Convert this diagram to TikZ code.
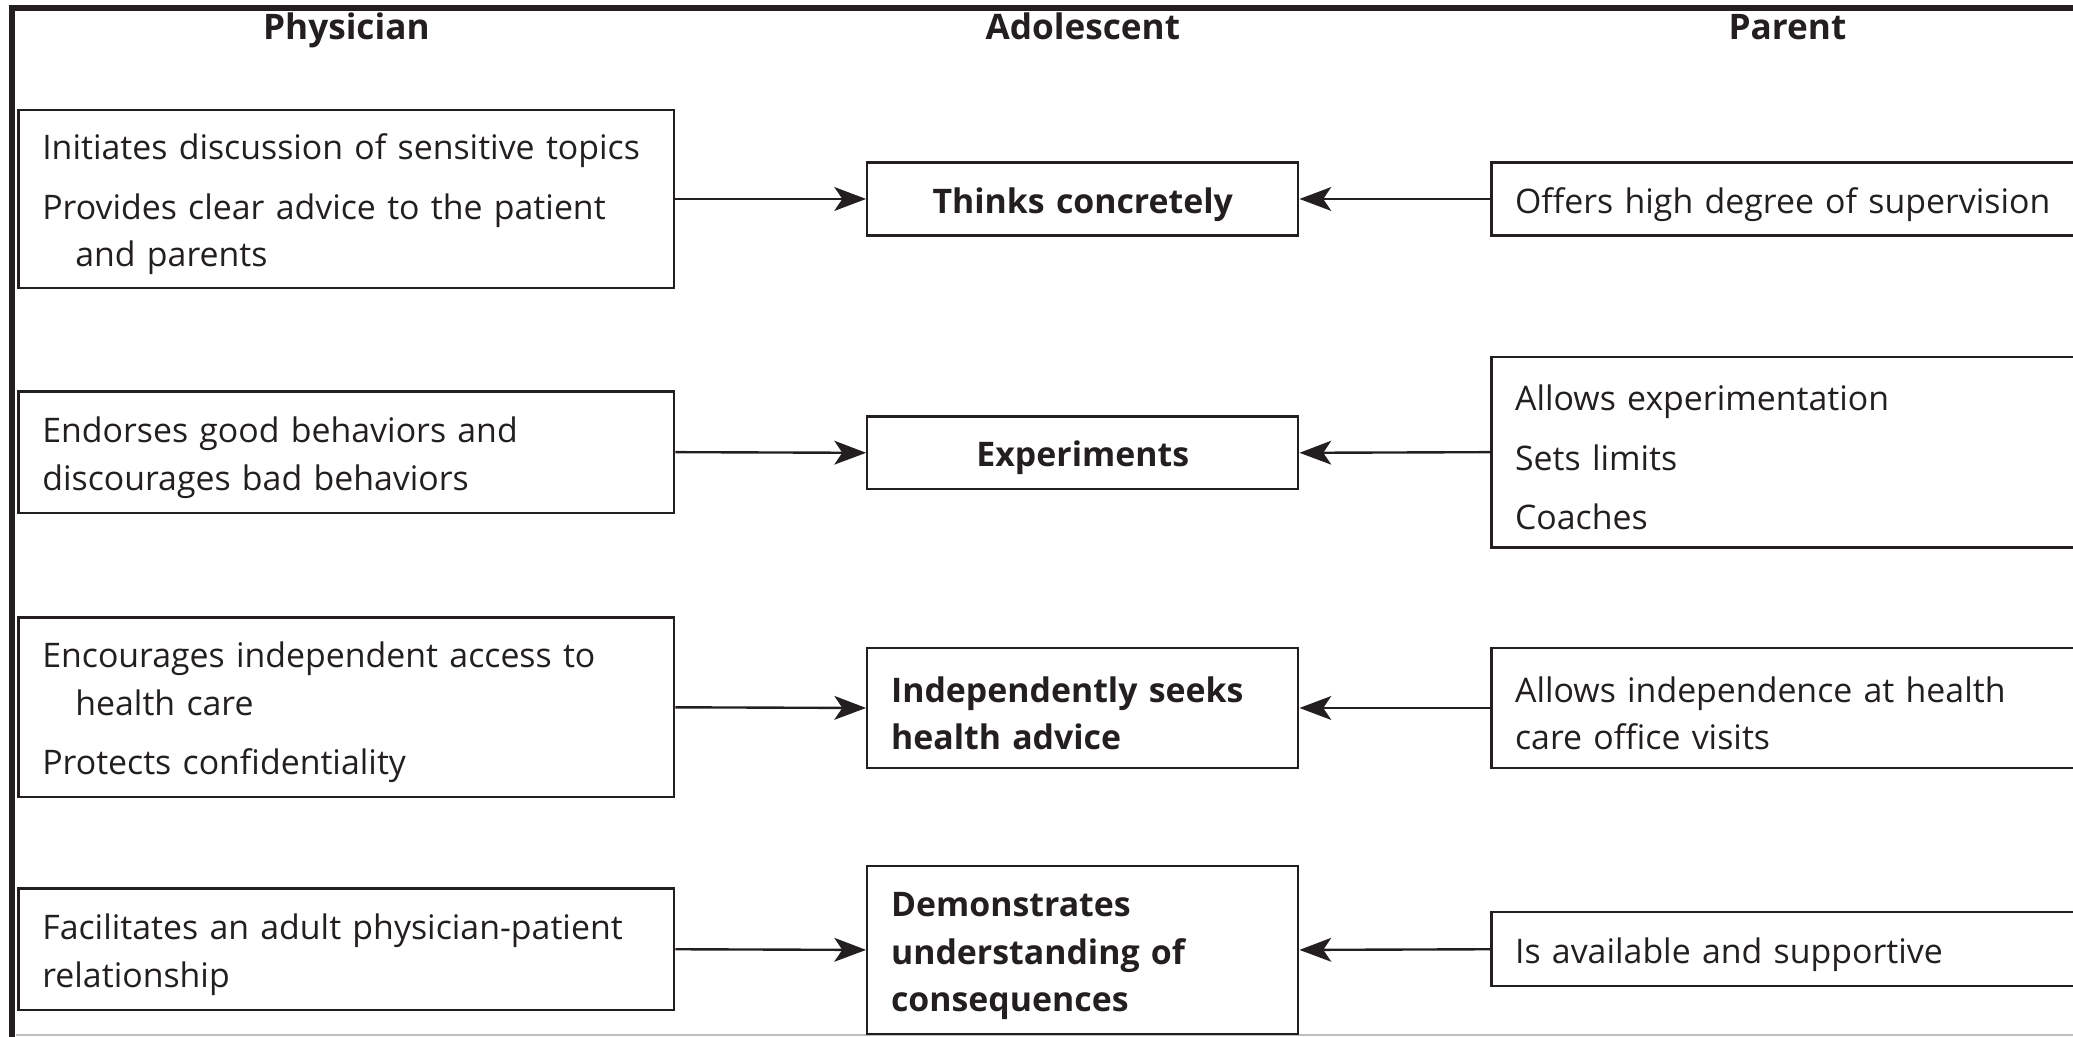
\documentclass[tikz,border=0pt]{standalone}
\usepackage{fontspec}
\setmainfont{Open Sans}
\usetikzlibrary{arrows.meta,positioning}
\definecolor{ink}{RGB}{35,31,32}
\tikzset{
  >={Stealth[length=24pt,width=18pt,inset=6pt]},
  every node/.style={font=\fontsize{25.6}{36}\selectfont,text=ink},
  blk/.style={draw=ink,line width=1.8pt,inner xsep=18pt,inner ysep=0pt,align=left,
    execute at begin node={\rule{0pt}{27.5pt}}},
  physbox/.style={blk,minimum width=496pt,text width=460pt},
  adolbox/.style={blk,minimum width=326pt,text width=290pt,font=\fontsize{25.6}{36}\selectfont\bfseries},
  parentbox/.style={blk,minimum width=480pt,text width=444pt},
  colhead/.style={anchor=base,font=\fontsize{26.6}{30}\selectfont\bfseries},
  flow/.style={->,line width=1.8pt,draw=ink},
}

\begin{document}
\begin{tikzpicture}[x=1pt,y=1pt]
  \useasboundingbox (0,0) rectangle (1568,-784);
  \clip (0,0) rectangle (1568,-784);

  % ---------------- frame
  \draw[ink,line width=4.5pt] (9.3,-790) -- (9.3,-6.4) -- (1575,-6.4);
  \draw[black!25,line width=1.5pt] (12,-783) -- (1568,-783);

  % ---------------- column heads
  \node[colhead] (hPhys) at (262,-30)  {Physician};
  \node[colhead] (hAdol) at (819,-30)  {Adolescent};
  \node[colhead] (hPar)  at (1352,-30) {Parent};

  % ---------------- physician
  \node[physbox,minimum height=135pt] (P1) at (262,-150.5) {Initiates discussion of sensitive topics\\[9pt]Provides clear advice to the patient\\\hspace*{25pt}and parents};
  \node[physbox,minimum height=92pt]  (P2) at (262,-342)   {Endorses good behaviors and\\discourages bad behaviors};
  \node[physbox,minimum height=136pt] (P3) at (262,-535)   {Encourages independent access to\\\hspace*{25pt}health care\\[9pt]Protects confidentiality};
  \node[physbox,minimum height=92pt]  (P4) at (262,-718)   {Facilitates an adult physician-patient\\relationship};

  % ---------------- adolescent
  \node[adolbox,align=center,minimum height=55pt] (A1) at (819,-150.5) {Thinks concretely};
  \node[adolbox,align=center,minimum height=55pt] (A2) at (819,-342.5) {Experiments};
  \node[adolbox,minimum height=91pt]  (A3) at (819,-535.5) {Independently seeks\\health advice};
  \node[adolbox,minimum height=127pt] (A4) at (819,-718.5) {Demonstrates\\understanding of\\consequences};

  % ---------------- parent
  \node[parentbox,minimum height=55pt]  (R1) at (1368,-150.5) {Offers high degree of supervision};
  \node[parentbox,minimum height=144pt] (R2) at (1368,-342)   {Allows experimentation\\[9pt]Sets limits\\[9pt]Coaches};
  \node[parentbox,minimum height=91pt]  (R3) at (1368,-535.5) {Allows independence at health\\care office visits};
  \node[parentbox,minimum height=56pt]  (R4) at (1368,-718)   {Is available and supportive};

  % ---------------- arrows
  \foreach \i in {1,...,4}{
    \draw[flow] (P\i.east) -- (A\i.west);
    \draw[flow] (R\i.west) -- (A\i.east);
  }
\end{tikzpicture}
\end{document}
